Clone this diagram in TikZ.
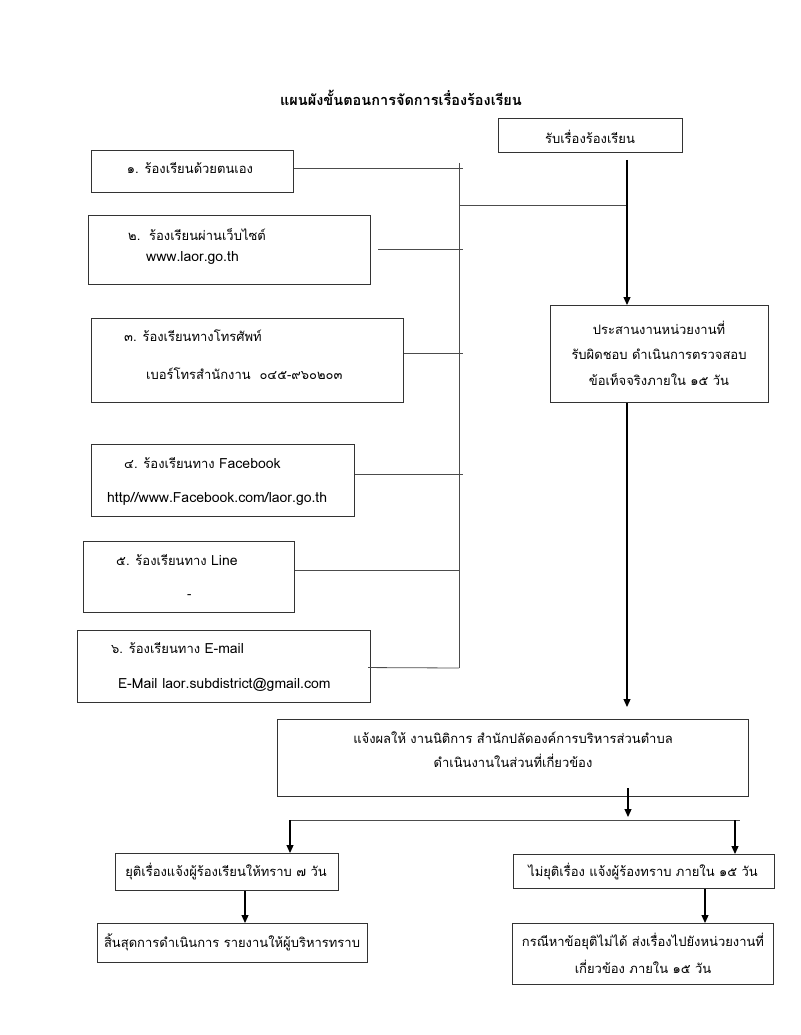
\documentclass[tikz,border=0pt]{standalone}
\usepackage{fontspec}
\setmainfont{Loma}[Script=Thai]
\usetikzlibrary{arrows.meta}
\newcommand\myfs{\fontsize{13}{17}\selectfont}
\newcommand\lat[1]{{\fontsize{14}{17}\selectfont #1}}
\begin{document}
\begin{tikzpicture}[x=1pt,y=-1pt,
  box/.style={draw=black!80,line width=1.1pt,inner sep=0pt,anchor=north west},
  txt/.style={inner sep=0pt,anchor=west,font=\myfs},
  ctxt/.style={inner sep=0pt,align=center,font=\myfs},
  ln/.style={draw=black!70,line width=0.8pt},
  arr/.style={draw=black,line width=1.2pt,-{Triangle[length=8pt,width=7pt]}}]
\useasboundingbox (0,0) rectangle (800,1035);

% title
\node[inner sep=0pt,font=\bfseries\fontsize{14.5}{19}\selectfont] (title) at (401,98) {แผนผังขั้นตอนการจัดการเรื่องร้องเรียน};

% receive
\node[box,minimum width=184pt,minimum height=34pt] (recv) at (498,118) {};
\node[ctxt] (recvt) at (590,137) {รับเรื่องร้องเรียน};

% left boxes
\node[box,minimum width=202pt,minimum height=42pt] (b1) at (91,150) {};
\node[ctxt] (b1t) at (190,168) {๑. ร้องเรียนด้วยตนเอง};

\node[box,minimum width=282pt,minimum height=69pt] (b2) at (88,215) {};
\node[txt] (b2a) at (128,235) {๒.\ \ ร้องเรียนผ่านเว็บไซต์};
\node[txt] (b2b) at (146,258) {\lat{www.laor.go.th}};

\node[box,minimum width=312pt,minimum height=84pt] (b3) at (91,318) {};
\node[txt] (b3a) at (124,336) {๓. ร้องเรียนทางโทรศัพท์};
\node[txt] (b3b) at (146,374) {เบอร์โทรสำนักงาน\ \ ๐๔๕-๙๖๐๒๐๓};

\node[box,minimum width=263pt,minimum height=72pt] (b4) at (91,444) {};
\node[txt] (b4a) at (124,463) {๔. ร้องเรียนทาง \lat{Facebook}};
\node[txt] (b4b) at (107,499) {\lat{http//www.Facebook.com/laor.go.th}};

\node[box,minimum width=211pt,minimum height=71pt] (b5) at (83,541) {};
\node[txt] (b5a) at (116,560) {๕. ร้องเรียนทาง \lat{Line}};
\node[txt] (b5b) at (187,597) {-};

\node[box,minimum width=293pt,minimum height=72pt] (b6) at (77,630) {};
\node[txt] (b6a) at (111,648) {๖. ร้องเรียนทาง \lat{E-mail}};
\node[txt] (b6b) at (118,685) {\lat{E-Mail laor.subdistrict@gmail.com}};

% bus
\coordinate (bt) at (459,163);
\coordinate (bb) at (459,668);
\coordinate (bj) at (459,205);
\draw[ln] (bt) -- (bb);
\draw[ln] ([yshift=3pt]b1.east) -- ++(169,0) coordinate (e1);
\draw[ln] ([xshift=7pt,yshift=1pt]b2.east) -- ++(85,0) coordinate (e2);
\draw[ln] ([yshift=7pt]b3.east) -- ++(59,0) coordinate (e3);
\draw[ln] ([yshift=6pt]b4.east) -- ++(108,0) coordinate (e4);
\draw[ln] ([yshift=7pt]b5.east) -- ++(165,0) coordinate (e5);
\draw[ln] ([xshift=-3pt,yshift=-1pt]b6.east) -- (bb);

% main column
\coordinate (r1) at (627,160);
\node[box,minimum width=218pt,minimum height=97pt] (coord) at (550,305) {};
\node[inner sep=0pt,align=center,font=\fontsize{13}{25.5}\selectfont] (coordt) at (659,353) {ประสานงานหน่วยงานที่\\รับผิดชอบ ดำเนินการตรวจสอบ\\ข้อเท็จจริงภายใน ๑๕ วัน};
\draw[ln] (bj) -- (r1 |- bj);
\draw[arr] (r1) -- (r1 |- coord.north);

\node[box,minimum width=471pt,minimum height=77pt] (notify) at (277,719) {};
\node[inner sep=0pt,align=center,font=\fontsize{13}{24}\selectfont] (notifyt) at (513,750) {แจ้งผลให้ งานนิติการ สำนักปลัดองค์การบริหารส่วนตำบล\\ดำเนินงานในส่วนที่เกี่ยวข้อง};
\coordinate (n1) at (627,707);
\draw[arr] (r1 |- coord.south) -- (n1);

% split
\coordinate (s0) at (628,788);
\coordinate (s1) at (628,817);
\coordinate (hl) at (290,820);
\coordinate (hr) at (740,820);
\coordinate (rl) at (735,820);
\draw[arr] (s0) -- (s1);
\draw[ln] (hl) -- (hr);

\node[box,minimum width=223pt,minimum height=37pt] (stop) at (115,853) {};
\node[ctxt] (stopt) at (226,871) {ยุติเรื่องแจ้งผู้ร้องเรียนให้ทราบ ๗ วัน};
\node[box,minimum width=270pt,minimum height=39pt] (endb) at (97,923) {};
\node[ctxt] (endt) at (232,942) {สิ้นสุดการดำเนินการ รายงานให้ผู้บริหารทราบ};

\node[box,minimum width=261pt,minimum height=34pt] (nost) at (513,854) {};
\node[ctxt] (nostt) at (643,871) {ไม่ยุติเรื่อง แจ้งผู้ร้องทราบ ภายใน ๑๕ วัน};
\node[box,minimum width=261pt,minimum height=61pt] (fwd) at (512,923) {};
\node[inner sep=0pt,align=center,font=\fontsize{13}{27}\selectfont] (fwdt) at (643,953) {กรณีหาข้อยุติไม่ได้ ส่งเรื่องไปยังหน่วยงานที่\\เกี่ยวข้อง ภายใน ๑๕ วัน};

\coordinate (lx) at (245,0);
\coordinate (rx) at (705,0);
\draw[arr] (hl) -- (hl |- stop.north);
\draw[arr] (rl) -- (rl |- nost.north);
\draw[arr] (stop.south -| lx) -- (endb.north -| lx);
\draw[arr] (nost.south -| rx) -- (fwd.north -| rx);
\end{tikzpicture}
\end{document}
